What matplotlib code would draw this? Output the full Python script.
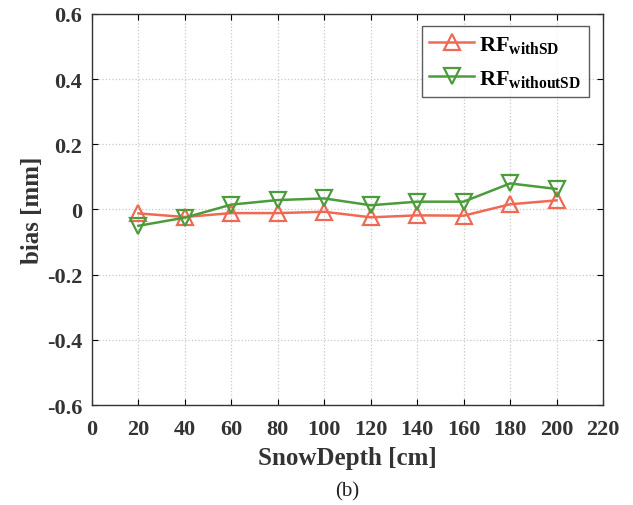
import numpy as np
import matplotlib.pyplot as plt

# bias per snow depth bin
snow_depth = [20, 40, 60, 80, 100, 120, 140, 160, 180, 200]
bias_with_sd = [-0.012, -0.023, -0.011, -0.011, -0.007, -0.024, -0.018, -0.019, 0.016, 0.028]
bias_without_sd = [-0.050, -0.025, 0.015, 0.029, 0.034, 0.013, 0.024, 0.024, 0.080, 0.063]

x_ticks = np.arange(0, 221, 20)
y_ticks = np.arange(-0.6, 0.61, 0.2)

plt.rcParams['font.family'] = ['Liberation Serif', 'DejaVu Serif']
plt.rcParams['mathtext.fontset'] = 'custom'
plt.rcParams['mathtext.bf'] = 'Liberation Serif:bold'
plt.rcParams['mathtext.rm'] = 'Liberation Serif'

fig = plt.figure(figsize=(6.33, 5.06), dpi=100)
ax = fig.add_axes([0.1453, 0.1976, 0.8073, 0.7728])

red = '#ef6a55'
green = '#4c9c3c'
ax.plot(snow_depth, bias_with_sd, color=red, lw=1.8, marker='^', ms=11,
        mfc='none', mec=red, mew=1.6, label=r'$\mathbf{RF_{withSD}}$')
ax.plot(snow_depth, bias_without_sd, color=green, lw=1.8, marker='v', ms=11,
        mfc='none', mec=green, mew=1.6, label=r'$\mathbf{RF_{withoutSD}}$')

ax.set_xlim(0, 220)
ax.set_ylim(-0.6, 0.6)
ax.set_xticks(x_ticks)
ax.set_yticks(y_ticks)
ax.set_yticklabels(['-0.6', '-0.4', '-0.2', '0', '0.2', '0.4', '0.6'])
ax.tick_params(direction='in', top=True, right=True, length=4, width=0.8,
               labelsize=16)
ax.tick_params(axis='x', pad=10)
ax.tick_params(axis='y', pad=7)
for lbl in ax.get_xticklabels() + ax.get_yticklabels():
    lbl.set_fontweight('bold')
    lbl.set_color('#333333')

ax.grid(True, linestyle=':', color='#c8c8c8', lw=0.9)
for s in ax.spines.values():
    s.set_linewidth(1.0)
    s.set_color('#333333')

ax.set_xlabel('SnowDepth [cm]', fontsize=18, fontweight='bold', color='#333333', labelpad=5)
ax.set_ylabel('bias [mm]', fontsize=18, fontweight='bold', color='#333333', labelpad=2)

leg = ax.legend(loc='upper right', fontsize=16, frameon=True, fancybox=False,
                edgecolor='#333333', handlelength=2.0, handletextpad=0.25,
                borderpad=0.35, labelspacing=0.6, bbox_to_anchor=(0.995, 0.998))
leg.get_frame().set_linewidth(1.0)

fig.text(0.5485, 0.008, '(b)', ha='center', va='bottom', fontsize=15, color='#222222')

fig.savefig('out.png', dpi=100)
